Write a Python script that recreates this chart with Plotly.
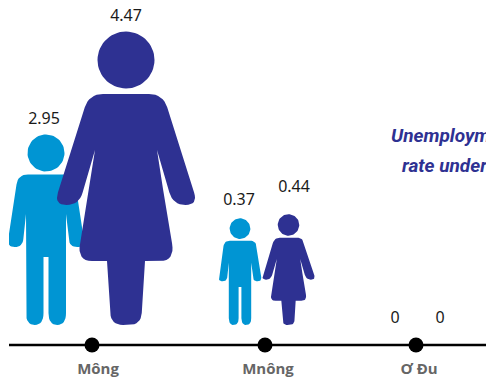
import math
import plotly.graph_objects as go

categories = ["Mông", "Mnông", "Ơ Đu"]
male_values = [2.95, 0.37, 0]
female_values = [4.47, 0.44, 0]
male_labels = ["2.95", "0.37", "0"]
female_labels = ["4.47", "0.44", "0"]

CAT_X = [92, 265, 416]
LABEL_X = [98, 268, 419]
MALE_DX = [-46, -25, -21]
FEMALE_DX = [34, 23.5, 24]
MALE_TEXT_DX = [-2, -1, 0]
FEMALE_TEXT_DX = [0, 5.5, 0]
MALE_H = [191, 107, 0]
FEMALE_H = [294, 111, 0]
MALE_GAP = [14, 17, 6]
FEMALE_GAP = [14, 26, 6]
BASE = 20
BLUE = "#0095D3"
NAVY = "#2E3192"


def rounded(poly):
    out = []
    n = len(poly)
    for i in range(n):
        px, py, _ = poly[i - 1]
        x, y, r = poly[i]
        nx, ny, _ = poly[(i + 1) % n]
        if r == 0:
            out.append((x, y))
            continue
        d1 = math.hypot(px - x, py - y)
        d2 = math.hypot(nx - x, ny - y)
        t1 = min(r / d1, 0.5)
        t2 = min(r / d2, 0.5)
        a = (x + (px - x) * t1, y + (py - y) * t1)
        b = (x + (nx - x) * t2, y + (ny - y) * t2)
        for k in range(9):
            t = k / 8
            out.append(((1 - t) ** 2 * a[0] + 2 * t * (1 - t) * x + t * t * b[0],
                        (1 - t) ** 2 * a[1] + 2 * t * (1 - t) * y + t * t * b[1]))
    return out


def mirror(left):
    return left + [(-x, y, r) for x, y, r in reversed(left)]


# unit outlines (fractions of figure height), traced on the left half and mirrored
MALE_OUT = mirror([(x / 191, y / 191, r / 191) for x, y, r in [
    (-28, 150.5, 10), (-39, 78, 8), (-23.5, 78, 8), (-20, 111, 0),
    (-20, 0, 12), (-2.5, 0, 12), (-2.5, 68, 0)]])
MALE_HEAD = (0, 172 / 191, 18.5 / 191)
FEMALE_OUT = mirror([(x / 294, y / 294, r / 294) for x, y, r in [
    (-37, 231, 14), (-72, 120, 13), (-47, 120, 13), (-31, 175, 0),
    (-37, 136, 0), (-49, 64, 18), (-19, 64, 0), (-15, 0, 12)]])
FEMALE_HEAD = (0, 265 / 294, 28.5 / 294)


def icon(cx, h, outline, head):
    xs, ys = [], []
    scaled = [(cx + x * h, BASE + y * h, r * h) for x, y, r in outline]
    for x, y in rounded(scaled):
        xs.append(x)
        ys.append(y)
    xs.append(xs[0])
    ys.append(ys[0])
    xs.append(None)
    ys.append(None)
    for k in range(61):
        a = 2 * math.pi * k / 60
        xs.append(cx + head[0] * h + head[2] * h * math.cos(a))
        ys.append(BASE + head[1] * h + head[2] * h * math.sin(a))
    return xs, ys


fig = go.Figure()
for i in range(len(categories)):
    if male_values[i] > 0:
        x, y = icon(CAT_X[i] + MALE_DX[i], MALE_H[i], MALE_OUT, MALE_HEAD)
        fig.add_trace(go.Scatter(x=x, y=y, mode="lines", fill="toself", fillcolor=BLUE,
                                 line=dict(width=0, color=BLUE), hoverinfo="skip"))
for i in range(len(categories)):
    if female_values[i] > 0:
        x, y = icon(CAT_X[i] + FEMALE_DX[i], FEMALE_H[i], FEMALE_OUT, FEMALE_HEAD)
        fig.add_trace(go.Scatter(x=x, y=y, mode="lines", fill="toself", fillcolor=NAVY,
                                 line=dict(width=0, color=NAVY), hoverinfo="skip"))

lab_x = ([CAT_X[i] + MALE_DX[i] + MALE_TEXT_DX[i] for i in range(3)]
         + [CAT_X[i] + FEMALE_DX[i] + FEMALE_TEXT_DX[i] for i in range(3)])
lab_y = [BASE + MALE_H[i] + MALE_GAP[i] for i in range(3)] + [BASE + FEMALE_H[i] + FEMALE_GAP[i] for i in range(3)]
fig.add_trace(go.Scatter(x=lab_x, y=lab_y, mode="text", text=male_labels + female_labels,
                         textposition="middle center", cliponaxis=False,
                         textfont=dict(family="Noto Sans", size=16, color="#1a1a1a")))
fig.add_trace(go.Scatter(x=[9, 486], y=[0, 0], mode="lines", line=dict(color="black", width=2.5)))
fig.add_trace(go.Scatter(x=CAT_X, y=[0, 0, 0], mode="markers", cliponaxis=False,
                         marker=dict(size=15, color="black")))

for text, x0, y0 in [("Unemployment", 391, 210), ("rate under", 402, 180)]:
    fig.add_annotation(x=x0, y=y0, text=f"<b><i>{text}</i></b>", showarrow=False,
                       xanchor="left", yanchor="middle", xshift=-2,
                       font=dict(family="Roboto", size=19, color=NAVY))

fig.update_layout(
    width=486, height=378, showlegend=False, paper_bgcolor="white", plot_bgcolor="white",
    margin=dict(l=9, r=0, t=0, b=20, autoexpand=False),
    xaxis=dict(range=[9, 486], showgrid=False, zeroline=False, showline=False,
               tickvals=LABEL_X, ticktext=[f"<b>{c}</b>" for c in categories],
               ticks="", ticklabelstandoff=0, automargin=False,
               tickfont=dict(family="Open Sans", size=15, color="#666666"), fixedrange=True),
    yaxis=dict(range=[-13, 345], visible=False, fixedrange=True),
)
fig.write_html("out.html", config=dict(displayModeBar=False),
               post_script="document.body.style.margin='0';document.body.style.overflow='hidden';")
